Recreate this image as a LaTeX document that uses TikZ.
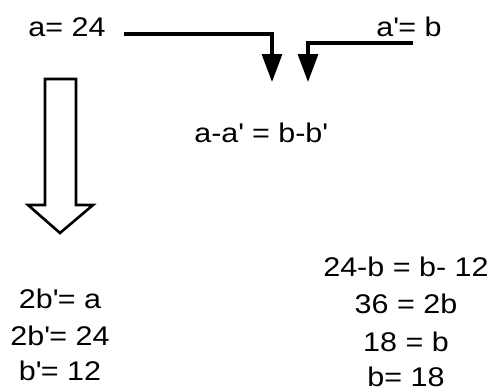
\documentclass[tikz,border=0pt]{standalone}
\usepackage{fontspec}
\setmainfont[FakeStretch=1.13]{Liberation Sans}
\usetikzlibrary{arrows.meta}
\newcommand\pr{\textquotesingle}

\begin{document}
\begin{tikzpicture}[x=1pt,y=-1pt,line join=miter,
    eq/.style={inner sep=0pt,anchor=base,font=\fontsize{27}{30}\selectfont},
    link/.style={line width=3.2pt,-{Triangle[length=28pt,width=20pt]}}]
  \useasboundingbox (0,0) rectangle (494,391);
  % top line
  \node[eq] (A) at (67,36) {a= 24};
  \node[eq] (Ap) at (409,36) {a\pr= b};
  \node[eq] (M) at (261,142) {a-a\pr{} = b-b\pr};
  \coordinate (S1) at (124,34);
  \coordinate (T1) at (272,82);
  \coordinate (S2) at (413,43);
  \coordinate (T2) at (308,82);
  \draw[link] (S1) -| (T1);
  \draw[link] (S2) -| (T2);
  % hollow arrow
  \draw[line width=2.6pt] (45,79) -- (76,79) -- (76,205) -- (93,205) -- (60,233)
    -- (28,205) -- (45,205) -- cycle;
  % left column
  \node[eq] (L1) at (60,308) {2b\pr= a};
  \node[eq] (L2) at (60,345) {2b\pr= 24};
  \node[eq] (L3) at (60,380) {b\pr= 12};
  % right column
  \node[eq] (R1) at (406,276) {24-b = b- 12};
  \node[eq] (R2) at (406,313) {36 = 2b};
  \node[eq] (R3) at (406,351) {18 = b};
  \node[eq] (R4) at (406,386) {b= 18};
\end{tikzpicture}
\end{document}
